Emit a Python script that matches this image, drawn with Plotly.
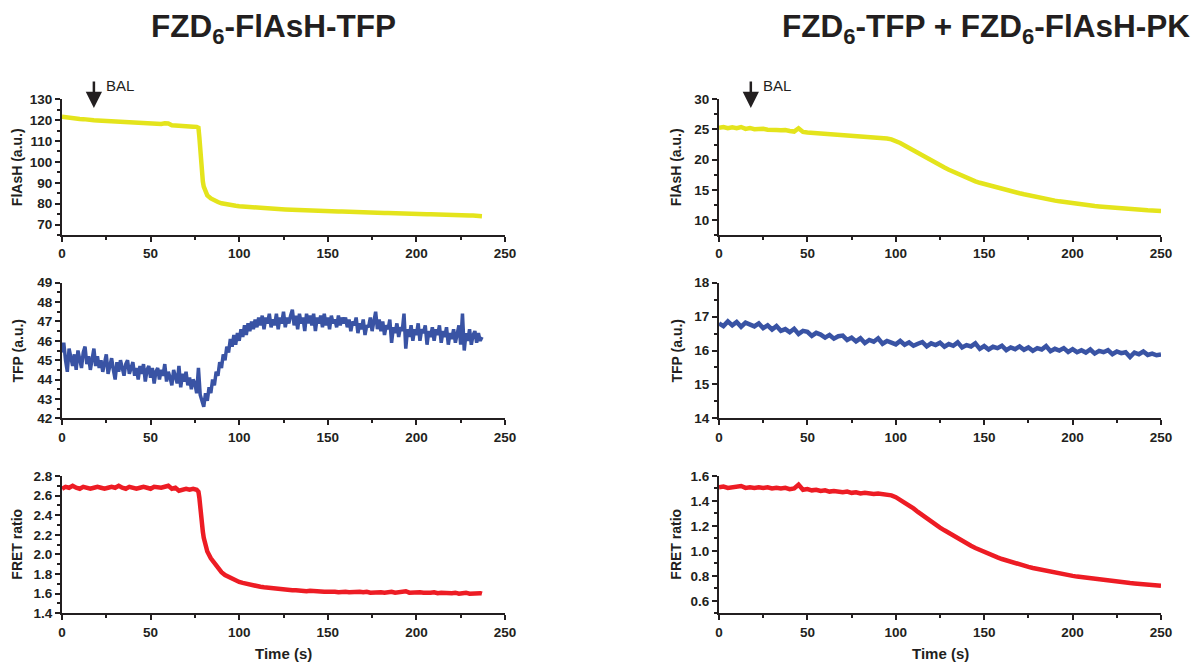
import plotly.graph_objects as go

# ---------------- data ----------------
t_left = [0, 2, 4, 6, 8, 10, 12, 14, 16, 18, 20, 22, 24, 26, 28, 30, 32, 34, 36, 38,
          40, 42, 44, 46, 48, 50, 52, 54, 56, 58, 60, 62, 64, 66, 68, 70, 72, 74, 76,
          77, 77.5, 78, 78.5, 79, 79.5, 80, 81, 82,
          84, 86, 88, 90, 92, 94, 96, 98, 100, 102, 104, 106, 108, 110, 112, 114, 116, 118,
          120, 122, 124, 126, 128, 130, 132, 134, 136, 138, 140, 142, 144, 146, 148, 150,
          152, 154, 156, 158, 160, 162, 164, 166, 168, 170, 172, 174, 176, 178, 180, 182,
          184, 186, 188, 190, 192, 194, 196, 198, 200, 202, 204, 206, 208, 210, 212, 214,
          216, 218, 220, 222, 224, 226, 228, 230, 232, 234, 236, 237]

flash_left = [121.6, 121.3, 121.0, 120.9, 120.7, 120.6, 120.5, 120.2, 120.3, 120.0,
              119.9, 119.8, 119.7, 119.6, 119.5, 119.5, 119.3, 119.2, 119.1, 119.0,
              118.8, 118.8, 118.6, 118.6, 118.5, 118.4, 118.3, 118.3, 118.2, 118.5,
              118.4, 117.6, 117.4, 117.2, 117.1, 117.0, 117.0, 116.9, 116.8,
              116.4, 112.0, 105.0, 98.5, 94.0, 90.5, 88.2, 85.6, 84.0,
              82.5, 81.5, 80.8, 80.2, 79.8, 79.5, 79.2, 79.0, 78.8, 78.6,
              78.5, 78.4, 78.3, 78.1, 78.0, 77.9, 77.8, 77.8, 77.6, 77.5,
              77.3, 77.2, 77.1, 77.0, 77.0, 76.9, 76.8, 76.8, 76.7, 76.6,
              76.6, 76.5, 76.5, 76.4, 76.3, 76.3, 76.2, 76.2, 76.1, 76.0,
              76.0, 75.9, 75.9, 75.8, 75.8, 75.7, 75.7, 75.6, 75.6, 75.5,
              75.5, 75.4, 75.4, 75.3, 75.3, 75.2, 75.2, 75.1, 75.1, 75.0,
              75.0, 74.9, 74.9, 74.8, 74.8, 74.7, 74.7, 74.6, 74.6, 74.5,
              74.5, 74.4, 74.4, 74.3, 74.3, 74.2, 74.1, 74.0]

t_tfp_left = [0, 1, 2, 3, 4, 5, 6, 7, 8, 9, 10, 11, 12, 13, 14, 15, 16, 17, 18, 19,
              20, 21, 22, 23, 24, 25, 26, 27, 28, 29, 30, 31, 32, 33, 34, 35, 36, 37, 38, 39,
              40, 41, 42, 43, 44, 45, 46, 47, 48, 49, 50, 51, 52, 53, 54, 55, 56, 57, 58, 59,
              60, 61, 62, 63, 64, 65, 66, 67, 68, 69, 70, 71, 72, 73, 74, 75, 76, 77, 78, 79,
              80, 81, 82, 83, 84, 85, 86, 87, 88, 89, 90, 91, 92, 93, 94, 95, 96, 97, 98, 99,
              100, 101, 102, 103, 104, 105, 106, 107, 108, 109, 110, 111, 112, 113, 114, 115,
              116, 117, 118, 119, 120, 121, 122, 123, 124, 125, 126, 127, 128, 129, 130, 131,
              132, 133, 134, 135, 136, 137, 138, 139, 140, 141, 142, 143, 144, 145, 146, 147,
              148, 149, 150, 151, 152, 153, 154, 155, 156, 157, 158, 159, 160, 161, 162, 163,
              164, 165, 166, 167, 168, 169, 170, 171, 172, 173, 174, 175, 176, 177, 178, 179,
              180, 181, 182, 183, 184, 185, 186, 187, 188, 189, 190, 191, 192, 193, 194, 195,
              196, 197, 198, 199, 200, 201, 202, 203, 204, 205, 206, 207, 208, 209, 210, 211,
              212, 213, 214, 215, 216, 217, 218, 219, 220, 221, 222, 223, 224, 225, 226, 227,
              228, 229, 230, 231, 232, 233, 234, 235, 236, 237]

tfp_left = [45.4, 45.9, 45.0, 44.4, 45.6, 45.1, 44.7, 45.3, 44.5, 45.5,
            45.0, 44.6, 45.4, 45.7, 44.8, 45.2, 44.5, 45.1, 45.6, 44.7,
            45.2, 44.6, 45.0, 44.4, 44.9, 45.3, 44.3, 44.8, 45.1, 44.5,
            44.0, 44.9, 44.4, 45.0, 44.6, 44.2, 44.8, 45.0, 44.3, 44.7,
            44.9, 44.2, 44.6, 44.0, 44.7, 44.3, 44.8, 43.9, 44.5, 44.7,
            44.1, 44.6, 43.8, 44.4, 44.6, 44.0, 44.5, 44.2, 44.8, 43.9,
            44.4, 44.1, 43.7, 44.5, 44.2, 43.8, 44.7, 43.6, 44.3, 43.9,
            44.4, 43.7, 44.1, 43.5, 44.0, 43.8, 43.3, 44.6, 43.2, 42.9,
            42.6, 43.3, 42.9, 43.6, 43.3, 44.0, 43.7, 44.4, 44.2, 44.9,
            44.6, 45.3, 45.0, 45.7, 45.4, 46.1, 45.7, 46.3, 45.8, 46.4,
            46.0, 46.6, 46.2, 46.8, 46.3, 46.9, 46.5, 47.0, 46.6, 47.1,
            46.7, 47.2, 46.8, 47.3, 46.6, 47.2, 46.9, 47.4, 46.7, 47.1,
            46.8, 47.4, 46.6, 47.2, 46.9, 47.5, 46.7, 47.2, 46.9, 47.3,
            47.6, 46.8, 47.3, 46.6, 47.4, 46.9, 47.2, 46.5, 47.4, 46.9,
            47.3, 46.8, 47.4, 46.5, 47.2, 46.9, 47.3, 46.7, 47.4, 46.8,
            47.2, 46.6, 47.3, 46.9, 47.1, 46.7, 47.3, 46.8, 47.2, 46.9,
            47.2, 46.7, 47.1, 46.5, 47.0, 46.8, 47.2, 46.4, 46.9, 46.6,
            47.1, 46.3, 46.8, 46.7, 47.2, 46.5, 47.0, 47.5, 46.6, 47.1,
            46.5, 47.0, 46.3, 46.8, 46.6, 47.1, 45.9, 46.7, 46.4, 46.9,
            46.2, 46.7, 46.5, 47.4, 45.6, 46.6, 46.2, 46.8, 46.0, 46.6,
            46.3, 46.9, 46.0, 46.6, 46.4, 46.8, 45.8, 46.5, 46.2, 46.7,
            46.0, 46.6, 46.3, 46.8, 45.9, 46.5, 46.2, 46.7, 45.8, 46.4,
            46.1, 46.6, 45.9, 46.4, 46.8, 45.8, 47.4, 45.5, 46.4, 46.0,
            46.6, 45.8, 46.3, 46.5, 45.9, 46.4, 46.0, 46.2]

fret_left = [2.67, 2.69, 2.68, 2.70, 2.68, 2.67, 2.69, 2.68, 2.67, 2.68,
             2.69, 2.68, 2.67, 2.68, 2.69, 2.68, 2.70, 2.68, 2.67, 2.69,
             2.68, 2.67, 2.68, 2.69, 2.68, 2.67, 2.69, 2.68, 2.68, 2.69,
             2.70, 2.67, 2.68, 2.65, 2.66, 2.67, 2.66, 2.67, 2.66,
             2.64, 2.58, 2.46, 2.36, 2.29, 2.23, 2.17, 2.09, 2.03,
             1.96, 1.91, 1.86, 1.82, 1.79, 1.77, 1.75, 1.73, 1.72, 1.71,
             1.70, 1.69, 1.685, 1.68, 1.67, 1.665, 1.66, 1.655, 1.65, 1.65,
             1.645, 1.64, 1.64, 1.635, 1.635, 1.63, 1.63, 1.625, 1.63, 1.625,
             1.62, 1.625, 1.62, 1.62, 1.625, 1.62, 1.615, 1.62, 1.62, 1.615,
             1.62, 1.615, 1.62, 1.615, 1.62, 1.61, 1.615, 1.62, 1.615, 1.61,
             1.615, 1.62, 1.61, 1.615, 1.62, 1.625, 1.61, 1.615, 1.61, 1.615,
             1.61, 1.605, 1.61, 1.615, 1.605, 1.61, 1.605, 1.61, 1.605, 1.61,
             1.60, 1.605, 1.61, 1.60, 1.605, 1.61, 1.605, 1.60]

t_right = [0, 2.5, 5, 7.5, 10, 12.5, 15, 17.5, 20, 22.5,
           25, 27.5, 30, 32.5, 35, 37.5, 40, 42.5, 45, 47.5,
           50, 52.5, 55, 57.5, 60, 62.5, 65, 67.5, 70, 72.5,
           75, 77.5, 80, 82.5, 85, 87.5, 90, 92.5, 95, 97.5,
           100, 102.5, 105, 107.5, 110, 112.5, 115, 117.5, 120, 122.5,
           125, 127.5, 130, 132.5, 135, 137.5, 140, 142.5, 145, 147.5,
           150, 152.5, 155, 157.5, 160, 162.5, 165, 167.5, 170, 172.5,
           175, 177.5, 180, 182.5, 185, 187.5, 190, 192.5, 195, 197.5,
           200, 202.5, 205, 207.5, 210, 212.5, 215, 217.5, 220, 222.5,
           225, 227.5, 230, 232.5, 235, 237.5, 240, 242.5, 245, 247.5, 250]

flash_right = [25.3, 25.4, 25.2, 25.35, 25.2, 25.4, 25.1, 25.25, 25.05, 25.15,
               25.1, 24.95, 25.0, 24.9, 24.85, 24.9, 24.75, 24.65, 25.2, 24.6,
               24.5, 24.45, 24.4, 24.35, 24.3, 24.25, 24.2, 24.15, 24.1, 24.05,
               24.0, 23.95, 23.9, 23.85, 23.8, 23.75, 23.7, 23.65, 23.5, 23.35,
               23.1, 22.75, 22.35, 21.92, 21.48, 21.05, 20.63, 20.22, 19.82, 19.43,
               19.05, 18.68, 18.32, 17.97, 17.63, 17.3, 16.98, 16.68, 16.4, 16.16,
               15.95, 15.75, 15.55, 15.35, 15.15, 14.96, 14.78, 14.6, 14.42, 14.25,
               14.08, 13.92, 13.76, 13.61, 13.47, 13.33, 13.2, 13.08, 12.96, 12.85,
               12.74, 12.64, 12.55, 12.46, 12.38, 12.3, 12.23, 12.16, 12.09, 12.03,
               11.97, 11.91, 11.86, 11.81, 11.76, 11.71, 11.66, 11.61, 11.57, 11.52, 11.48]

tfp_right = [16.80, 16.72, 16.86, 16.74, 16.84, 16.70, 16.82, 16.76, 16.71, 16.80,
             16.66, 16.74, 16.62, 16.72, 16.58, 16.63, 16.54, 16.64, 16.49, 16.58,
             16.55, 16.43, 16.52, 16.47, 16.38, 16.46, 16.35, 16.42, 16.44, 16.31,
             16.38, 16.27, 16.36, 16.22, 16.31, 16.26, 16.36, 16.20, 16.28, 16.23,
             16.18, 16.28, 16.17, 16.24, 16.14, 16.20, 16.25, 16.12, 16.21, 16.16,
             16.23, 16.11, 16.19, 16.14, 16.24, 16.09, 16.16, 16.12, 16.21, 16.05,
             16.13, 16.03, 16.11, 16.07, 16.14, 16.01, 16.09, 16.04, 16.12, 16.02,
             16.09, 15.99, 16.07, 16.03, 16.13, 15.98, 16.05, 16.00, 16.07, 15.96,
             16.04, 15.95, 16.01, 15.94, 16.03, 15.91, 15.99, 15.95, 16.01, 15.89,
             15.97, 15.92, 15.95, 15.81, 15.94, 15.89, 15.97, 15.87, 15.91, 15.86, 15.88]

fret_right = [1.51, 1.515, 1.505, 1.51, 1.51, 1.52, 1.505, 1.51, 1.505, 1.51,
              1.505, 1.51, 1.50, 1.505, 1.50, 1.505, 1.495, 1.50, 1.53, 1.49,
              1.495, 1.485, 1.49, 1.48, 1.485, 1.475, 1.48, 1.475, 1.47, 1.475,
              1.465, 1.47, 1.46, 1.465, 1.46, 1.455, 1.46, 1.455, 1.45, 1.445,
              1.43, 1.41, 1.39, 1.365, 1.34, 1.312, 1.285, 1.259, 1.234, 1.21,
              1.187, 1.165, 1.143, 1.121, 1.10, 1.08, 1.06, 1.041, 1.023, 1.006,
              0.990, 0.975, 0.961, 0.948, 0.935, 0.923, 0.912, 0.901, 0.891, 0.881,
              0.872, 0.863, 0.855, 0.847, 0.839, 0.832, 0.825, 0.818, 0.812, 0.806,
              0.800, 0.794, 0.789, 0.784, 0.779, 0.774, 0.769, 0.765, 0.761, 0.757,
              0.753, 0.749, 0.746, 0.742, 0.739, 0.736, 0.733, 0.730, 0.727, 0.724, 0.721]

bal_time = 18
titles = ["FZD<sub>6</sub>-FlAsH-TFP", "FZD<sub>6</sub>-TFP + FZD<sub>6</sub>-FlAsH-PK"]
y_titles = ["FlAsH (a.u.)", "TFP (a.u.)", "FRET ratio"]
x_title = "Time (s)"

# ---------------- styling ----------------
YELLOW = "#e4e41c"
BLUE = "#3953a4"
RED = "#ed1c24"
INK = "#231f20"
FONT = "Liberation Sans, Arial, sans-serif"
W, H = 1195, 668

col_dom = [[62 / W, 505 / W], [719 / W, 1161 / W]]
row_dom = [[1 - 235 / H, 1 - 99.3 / H], [1 - 418.3 / H, 1 - 282.7 / H], [1 - 613.3 / H, 1 - 476 / H]]

panels = [
    # (row, col, x, y, color, yrange, dtick, minor)
    (0, 0, t_left, flash_left, YELLOW, [65, 130], 10, 5),
    (0, 1, t_right, flash_right, YELLOW, [7.5, 30], 5, 2.5),
    (1, 0, t_tfp_left, tfp_left, BLUE, [42, 49], 1, 0.5),
    (1, 1, t_right, tfp_right, BLUE, [14, 18], 1, 0.5),
    (2, 0, t_left, fret_left, RED, [1.4, 2.8], 0.2, 0.1),
    (2, 1, t_right, fret_right, RED, [0.5, 1.6], 0.2, 0.1),
]

fig = go.Figure()
layout = {}
tickfont = dict(family=FONT, size=13.5, color=INK, weight="bold")
for i, (r, c, xs, ys, color, yr, dt, mn) in enumerate(panels):
    n = "" if i == 0 else str(i + 1)
    lw = 3.5 if i == 2 else 4.5
    fig.add_trace(go.Scatter(x=xs, y=ys, mode="lines", xaxis="x" + n, yaxis="y" + n,
                             line=dict(color=color, width=lw), showlegend=False,
                             hoverinfo="skip"))
    common = dict(showline=True, linecolor=INK, linewidth=2, ticks="outside",
                  ticklen=5, tickwidth=2, tickcolor=INK, showgrid=False, zeroline=False,
                  tickfont=tickfont, fixedrange=True, automargin=False)
    layout["xaxis" + n] = dict(domain=col_dom[c], anchor="y" + n, range=[0, 250], dtick=50,
                               tick0=0,
                               minor=dict(ticks="outside", ticklen=3, tickwidth=2,
                                          tickcolor=INK, dtick=25, tick0=0),
                               **common)
    layout["yaxis" + n] = dict(domain=row_dom[r], anchor="x" + n, range=yr, dtick=dt, tick0=0,
                               minor=dict(ticks="outside", ticklen=3, tickwidth=2,
                                          tickcolor=INK, dtick=mn, tick0=0),
                               **common)
    if yr[1] < 3:
        layout["yaxis" + n]["tickformat"] = ".1f"

annotations = []
# Column titles
for c, txt in enumerate(titles):
    cx = [273 / W, 986 / W][c]
    annotations.append(dict(text=txt, x=cx, y=1 - 29 / H, xref="paper", yref="paper",
                            xanchor="center", yanchor="middle", showarrow=False,
                            font=dict(family=FONT, size=31.5, color=INK, weight="bold")))
# y-axis titles
for r in range(3):
    for c in range(2):
        xpos = [17 / W, 676 / W][c]
        ypos = (row_dom[r][0] + row_dom[r][1]) / 2
        annotations.append(dict(text=y_titles[r], x=xpos, y=ypos, xref="paper", yref="paper",
                                xanchor="center", yanchor="middle", textangle=-90,
                                showarrow=False,
                                font=dict(family=FONT, size=14, color=INK, weight="bold")))
# x-axis titles
for c in range(2):
    annotations.append(dict(text=x_title, x=(col_dom[c][0] + col_dom[c][1]) / 2, y=1 - 653 / H,
                            xref="paper", yref="paper", xanchor="center", yanchor="middle",
                            showarrow=False,
                            font=dict(family=FONT, size=15, color=INK, weight="bold")))
# BAL arrows
for i, yax in [(0, ""), (1, "2")]:
    yr = panels[i][5]
    span = yr[1] - yr[0]
    tip = yr[1] - span * (108 - 99.3) / (235 - 99.3)
    annotations.append(dict(x=bal_time, y=tip, xref="x" + yax, yref="y" + yax, text="",
                            showarrow=True, ax=0, ay=-28, arrowhead=2, arrowsize=1.3,
                            arrowwidth=2.5, arrowcolor=INK, standoff=0))
    annotations.append(dict(text="BAL", x=bal_time + 5.7, y=1 - 86 / H, xref="x" + yax,
                            yref="paper", xanchor="left", yanchor="middle", showarrow=False,
                            font=dict(family=FONT, size=15, color=INK)))

fig.update_layout(width=W, height=H, margin=dict(l=0, r=0, t=0, b=0, pad=0, autoexpand=False),
                  paper_bgcolor="white", plot_bgcolor="white", annotations=annotations,
                  **layout)

fig.write_html("out.html", config={"displayModeBar": False},
               post_script="document.body.style.margin='0';document.body.style.overflow='hidden';")
